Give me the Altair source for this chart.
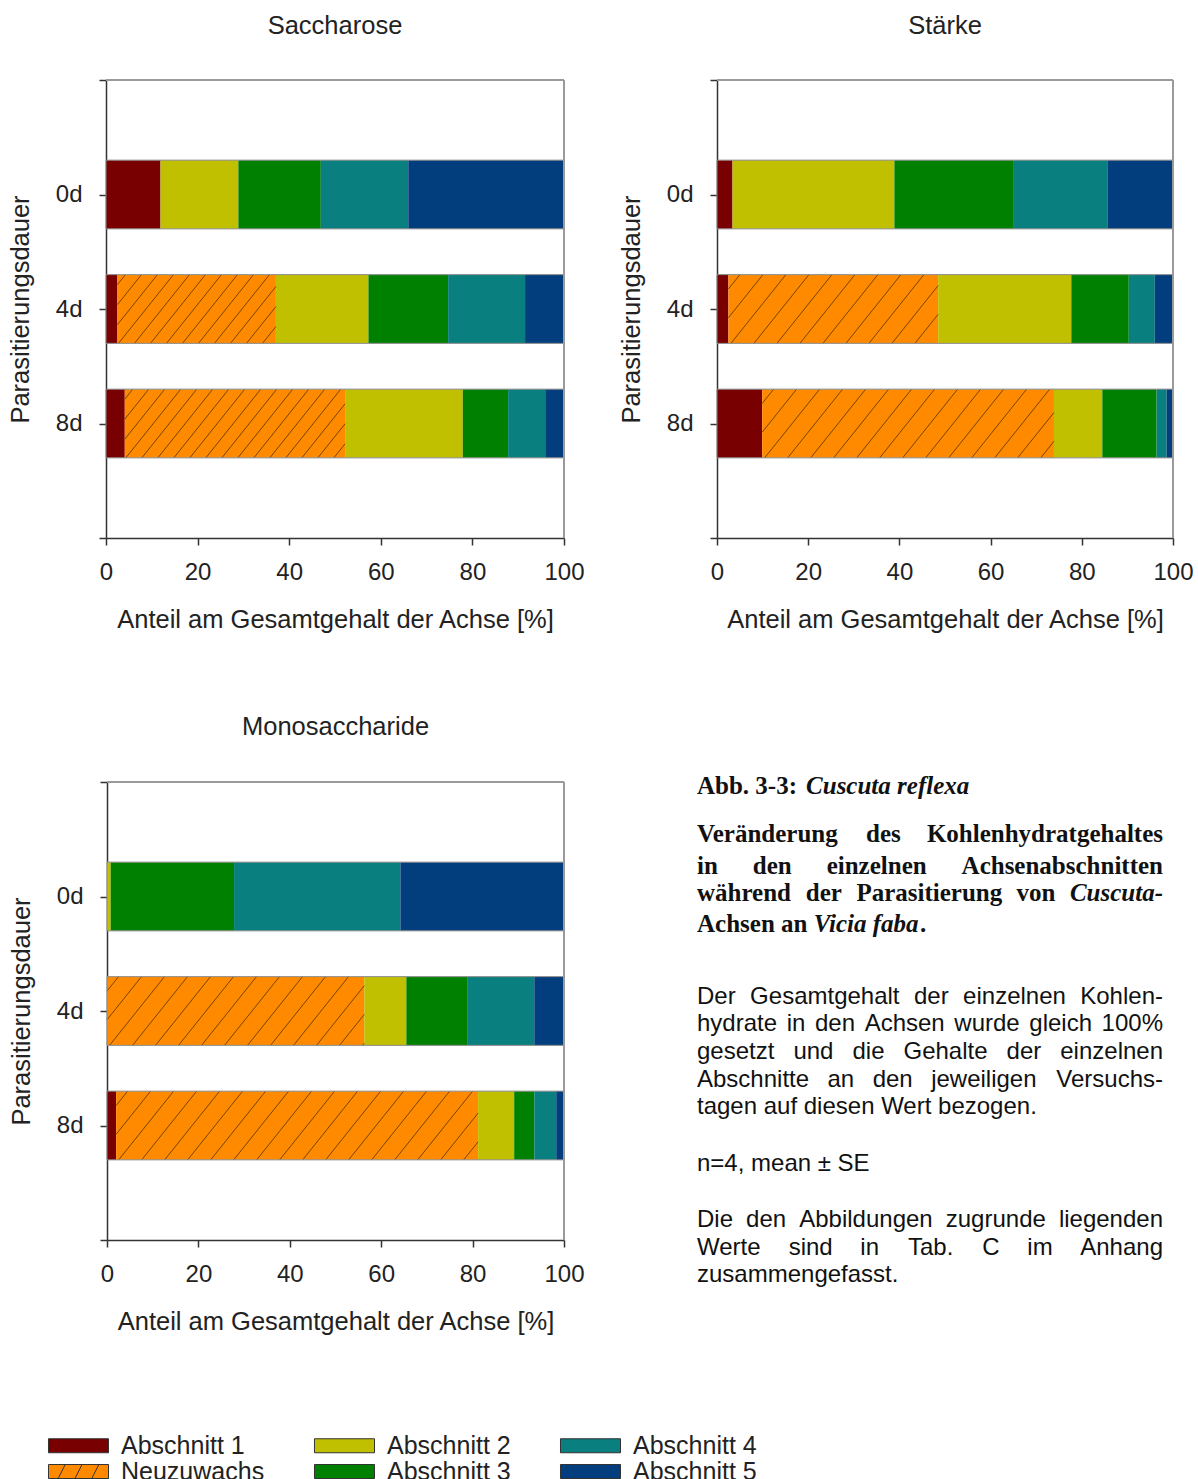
import altair as alt
import pandas as pd

W, H = 1198, 1479

# ---------------- data ----------------
segments = ["Abschnitt 1", "Neuzuwachs", "Abschnitt 2", "Abschnitt 3", "Abschnitt 4", "Abschnitt 5"]
seg_colors = ["#780000", "#ff8a00", "#c0c000", "#008000", "#0a7f80", "#023e7e"]
days = ["0d", "4d", "8d"]

# rows: 0d, 4d, 8d ; columns: segments order
saccharose = [
    [11.9, 0.0, 17.0, 18.0, 19.1, 34.0],
    [2.5, 34.6, 20.2, 17.4, 16.8, 8.5],
    [4.1, 48.1, 25.7, 9.9, 8.1, 4.1],
]
staerke = [
    [3.4, 0.0, 35.5, 26.2, 20.5, 14.4],
    [2.5, 46.0, 29.2, 12.6, 5.7, 4.0],
    [9.9, 64.0, 10.6, 11.9, 2.2, 1.4],
]
monosaccharide = [
    [0.0, 0.0, 0.8, 27.0, 36.4, 35.8],
    [0.0, 56.3, 9.2, 13.3, 14.7, 6.5],
    [2.0, 79.2, 7.9, 4.4, 4.8, 1.7],
]

panel_titles = ["Saccharose", "Stärke", "Monosaccharide"]
x_title = "Anteil am Gesamtgehalt der Achse [%]"
y_title = "Parasitierungsdauer"
x_ticks = [0, 20, 40, 60, 80, 100]

caption_head = [
    ([("Abb. 3-3: ", False), ("Cuscuta reflexa", True)], False),
    ([("Veränderung", False), ("des", False), ("Kohlenhydratgehaltes", False)], True),
    ([("in", False), ("den", False), ("einzelnen", False), ("Achsenabschnitten", False)], True),
    ([("während", False), ("der", False), ("Parasitierung", False), ("von", False), ("Cuscuta-", True)], True),
    ([("Achsen an ", False), ("Vicia faba", True), (".", False)], False),
]
caption_body = [
    ("Der Gesamtgehalt der einzelnen Kohlen-", True),
    ("hydrate in den Achsen wurde gleich 100%", True),
    ("gesetzt und die Gehalte der einzelnen", True),
    ("Abschnitte an den jeweiligen Versuchs-", True),
    ("tagen auf diesen Wert bezogen.", False),
    ("n=4, mean ± SE", False),
    ("Die den Abbildungen zugrunde liegenden", True),
    ("Werte sind in Tab. C im Anhang", True),
    ("zusammengefasst.", False),
]

# ---------------- layout ----------------
LAYOUT = {
    "Saccharose": dict(x0=106, x1=564, ytop=80, ybot=538, title_y=26, hatch=16),
    "Stärke": dict(x0=717, x1=1173, ytop=80, ybot=538, title_y=26, hatch=23),
    "Monosaccharide": dict(x0=107, x1=564, ytop=782, ybot=1240, title_y=727, hatch=23),
}
BH = 0.3          # half bar thickness in category units
YMAX = 4
XMAX = 100
SANS = "Liberation Sans"
SERIF = "Liberation Serif"
TXT = "#222222"

color_scale = alt.Scale(domain=segments, range=seg_colors)
one = pd.DataFrame({"k": [0]})


def panel(name, values):
    L = LAYOUT[name]
    rows = []
    for di, (day, vals) in enumerate(zip(days, values)):
        pos = len(days) - di
        cum = 0.0
        for seg, v in zip(segments, vals):
            if v > 0:
                rows.append(dict(day=day, seg=seg, value=v, start=cum, end=cum + v,
                                 ylo=pos - BH, yhi=pos + BH))
            cum += v
    df = pd.DataFrame(rows)
    outline = df.groupby(["day", "ylo", "yhi"], as_index=False).agg(start=("start", "min"), end=("end", "max"))

    # hatch lines for the Neuzuwachs segments
    px_x = (L["x1"] - L["x0"]) / XMAX
    px_y = (L["ybot"] - L["ytop"]) / YMAX
    bar_px = 2 * BH * px_y
    D = 0.8 * bar_px / px_x
    s = L["hatch"] / px_x
    hrows = []
    for r in df[df.seg == "Neuzuwachs"].itertuples():
        xb = r.start - D + s * 0.5
        while xb < r.end:
            t0 = max(0.0, (r.start - xb) / D)
            t1 = min(1.0, (r.end - xb) / D)
            if t1 - t0 > 1e-3:
                hrows.append(dict(hx=xb + t0 * D, hx2=xb + t1 * D,
                                  hy=r.ylo + 2 * BH * t0, hy2=r.ylo + 2 * BH * t1))
            xb += s
    hdf = pd.DataFrame(hrows)

    xs = alt.Scale(domain=[0, XMAX], range=[L["x0"], L["x1"]], nice=False, zero=False)
    ys = alt.Scale(domain=[0, YMAX], range=[L["ybot"], L["ytop"]], nice=False, zero=False)

    xa = alt.Axis(orient="bottom", offset=L["ybot"] - H, values=x_ticks, title=x_title,
                  tickSize=7, labelPadding=15, titlePadding=23, grid=False,
                  labelFlush=False, labelOverlap=False)
    label_expr = "datum.value==3?'0d':datum.value==2?'4d':datum.value==1?'8d':''"
    ya = alt.Axis(orient="left", offset=-L["x0"], values=[0, 1, 2, 3, 4], labelExpr=label_expr,
                  title=y_title, tickSize=7, labelPadding=17, titlePadding=22, grid=False,
                  labelFlush=False, labelOverlap=False)

    bars = alt.Chart(df).mark_rect().encode(
        x=alt.X("start:Q", scale=xs, axis=xa),
        x2="end:Q",
        y=alt.Y("ylo:Q", scale=ys, axis=ya),
        y2="yhi:Q",
        color=alt.Color("seg:N", scale=color_scale, legend=None),
    )
    hatch = alt.Chart(hdf).mark_rule(color="#5a3800", strokeWidth=1, opacity=0.85).encode(
        x=alt.X("hx:Q", scale=xs, axis=xa), x2="hx2:Q",
        y=alt.Y("hy:Q", scale=ys, axis=ya), y2="hy2:Q",
    )
    box = alt.Chart(outline).mark_rect(filled=False, stroke="#8a8a8a", strokeWidth=1).encode(
        x=alt.X("start:Q", scale=xs, axis=xa), x2="end:Q",
        y=alt.Y("ylo:Q", scale=ys, axis=ya), y2="yhi:Q",
    )
    top_rule = alt.Chart(one).mark_rule(color="#9a9a9a", strokeWidth=2).encode(
        x=alt.X(datum=0, scale=xs, axis=xa), x2=alt.datum(XMAX),
        y=alt.Y(datum=YMAX, scale=ys, axis=ya),
    )
    right_rule = alt.Chart(one).mark_rule(color="#9a9a9a", strokeWidth=2).encode(
        x=alt.X(datum=XMAX, scale=xs, axis=xa),
        y=alt.Y(datum=0, scale=ys, axis=ya), y2=alt.datum(YMAX),
    )
    title = alt.Chart(one).mark_text(font=SANS, fontSize=25.5, color=TXT, baseline="middle", align="center").encode(
        x=alt.value((L["x0"] + L["x1"]) / 2), y=alt.value(L["title_y"]), text=alt.value(name),
    )
    return alt.layer(bars, hatch, box, top_rule, right_rule, title)


# ---------------- caption text ----------------
ARIAL = {' ': 278, '%': 889, ',': 278, '-': 333, '.': 278, ':': 278, '=': 584, '±': 584,
         'A': 667, 'C': 722, 'D': 722, 'E': 667, 'G': 778, 'K': 667, 'S': 667, 'T': 611, 'V': 667, 'W': 944,
         'a': 556, 'b': 556, 'c': 500, 'd': 556, 'e': 556, 'f': 278, 'g': 556, 'h': 556, 'i': 222, 'j': 222,
         'k': 500, 'l': 222, 'm': 833, 'n': 556, 'o': 556, 'p': 556, 'q': 556, 'r': 333, 's': 500, 't': 278,
         'u': 556, 'v': 500, 'w': 722, 'x': 500, 'y': 500, 'z': 500, 'ä': 556}
TIMESB = {' ': 250, '-': 333, '.': 250, ':': 333, 'A': 722, 'C': 722, 'K': 778, 'P': 611, 'V': 722,
          'a': 500, 'b': 556, 'c': 444, 'd': 556, 'e': 444, 'f': 333, 'g': 500, 'h': 556, 'i': 278, 'l': 278,
          'm': 833, 'n': 556, 'o': 500, 'p': 556, 'r': 444, 's': 389, 't': 333, 'u': 556, 'v': 500, 'w': 722,
          'x': 500, 'y': 500, 'z': 444, 'ä': 500}
TIMESBI = dict(TIMESB, **{'C': 667, 't': 278, 'r': 389, 'V': 667, 'b': 500})


def tw(s, table, size):
    return sum(table.get(c, 556 if c.isdigit() else 500) for c in s) / 1000 * size


CX0, CX1 = 697, 1163
HEAD_Y = [786, 834, 866, 893, 924]
BODY_Y = [997, 1024, 1052, 1080, 1107, 1164, 1220, 1248, 1275]
HEAD_SIZE, BODY_SIZE = 25, 24

text_layers = []


def put(txt, x, y, align, font, size, bold=False, italic=False):
    kw = dict(font=font, fontSize=size, color="#111111", baseline="middle", align=align)
    if bold:
        kw["fontWeight"] = "bold"
    if italic:
        kw["fontStyle"] = "italic"
    text_layers.append(alt.Chart(one).mark_text(**kw).encode(
        x=alt.value(x), y=alt.value(y), text=alt.value(txt)))


def place_line(tokens, justify, y, font, size, wfun):
    if justify and len(tokens) > 1:
        widths = [wfun(t, it) for t, it in tokens]
        gap = (CX1 - CX0 - sum(widths)) / (len(tokens) - 1)
        cur = CX0
        for i, ((t, it), w) in enumerate(zip(tokens, widths)):
            if i == 0:
                put(t, CX0, y, "left", font, size, font == SERIF, it)
            elif i == len(tokens) - 1:
                put(t, CX1, y, "right", font, size, font == SERIF, it)
            else:
                put(t, cur + w / 2, y, "center", font, size, font == SERIF, it)
            cur += w + gap
    else:
        cur = CX0
        for t, it in tokens:
            put(t, cur, y, "left", font, size, font == SERIF, it)
            cur += wfun(t, it)


def serif_w(t, it):
    return tw(t, TIMESBI if it else TIMESB, HEAD_SIZE)


def sans_w(t, it):
    return tw(t, ARIAL, BODY_SIZE)


for (tokens, just), y in zip(caption_head, HEAD_Y):
    place_line(tokens, just, y, SERIF, HEAD_SIZE, serif_w)

for (line, just), y in zip(caption_body, BODY_Y):
    if just:
        place_line([(w, False) for w in line.split(" ")], True, y, SANS, BODY_SIZE, sans_w)
    else:
        put(line, CX0, y, "left", SANS, BODY_SIZE)

# ---------------- legend ----------------
rect_path = "M-4.286,-1L4.286,-1L4.286,1L-4.286,1Z"
hatch_path = rect_path + "M-2.9,1L-1.9,-1M-0.5,1L0.5,-1M1.9,1L2.9,-1"
leg_shapes = [hatch_path if s == "Neuzuwachs" else rect_path for s in segments]
leg = alt.Legend(title=None, orient="none", legendX=48, legendY=1433, columns=3, direction="vertical",
                 columnPadding=47, rowPadding=-3, symbolSize=196, symbolOffset=18, labelOffset=30,
                 labelFontSize=25, labelFont=SANS, labelColor=TXT, symbolStrokeColor="#333333",
                 symbolStrokeWidth=1, padding=0, labelLimit=400)
legend_layer = alt.Chart(pd.DataFrame({"seg": segments})).mark_point(
    filled=True, opacity=1, size=196, stroke="#333333", strokeWidth=1).encode(
    x=alt.value(-400), y=alt.value(-400),
    color=alt.Color("seg:N", scale=alt.Scale(domain=segments, range=seg_colors), legend=leg),
    shape=alt.Shape("seg:N", scale=alt.Scale(domain=segments, range=leg_shapes), legend=leg),
)

p1 = panel("Saccharose", saccharose)
p2 = panel("Stärke", staerke)
p3 = panel("Monosaccharide", monosaccharide)

chart = alt.layer(p1, p2, p3, *text_layers, legend_layer).resolve_scale(
    x="independent", y="independent", color="independent", shape="independent"
).resolve_axis(x="independent", y="independent").properties(
    width=W, height=H, padding=0, background="white",
    autosize=alt.AutoSizeParams(type="none"),
).configure_view(strokeWidth=0).configure_axis(
    labelFont=SANS, titleFont=SANS, labelFontSize=24, titleFontSize=25.5, titleFontWeight="normal",
    labelColor=TXT, titleColor=TXT, domainColor="#333333", tickColor="#333333", domainWidth=1.5, tickWidth=1.5,
)

chart.save("out.html", embed_options={"renderer": "svg", "actions": False})
